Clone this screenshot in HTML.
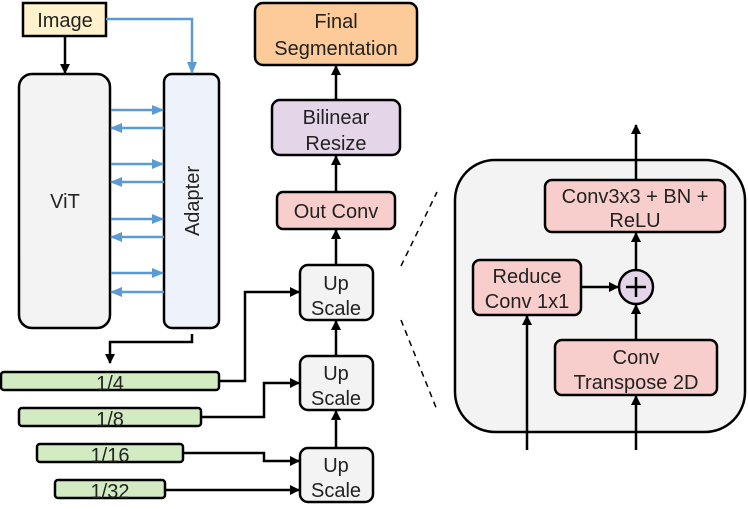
<!DOCTYPE html>
<html><head><style>body{margin:0;background:#fff}svg{display:block}text{font-family:"Liberation Sans",sans-serif;fill:#222;text-anchor:middle}</style></head><body>
<svg width="748" height="509" viewBox="0 0 748 509" xmlns="http://www.w3.org/2000/svg">
<defs>
<marker id="a" markerWidth="10" markerHeight="10" refX="9" refY="5" orient="auto" markerUnits="userSpaceOnUse"><path d="M0,0 L10,5 L0,10 z" fill="#000"/></marker>
<marker id="b" markerWidth="12" markerHeight="10" refX="11" refY="5" orient="auto" markerUnits="userSpaceOnUse"><path d="M0,0 L12,5 L0,10 z" fill="#5b9bd5"/></marker>
</defs>
<g stroke="#000" stroke-width="2.5">
<rect x="23" y="3" width="83" height="33" fill="#fff2cc"/>
<rect x="19" y="74" width="91" height="254" rx="13" fill="#f3f3f3"/>
<rect x="164" y="74" width="55" height="254" rx="8" fill="#eef2fb"/>
<rect x="255" y="3" width="162" height="62" rx="8" fill="#fdcb99"/>
<rect x="272" y="100" width="128" height="55" rx="8" fill="#e4d6e8"/>
<rect x="277" y="192" width="118" height="37" rx="6" fill="#f8cecc"/>
<rect x="300" y="265" width="73" height="55" rx="8" fill="#f3f3f3"/>
<rect x="300" y="356" width="73" height="54" rx="8" fill="#f3f3f3"/>
<rect x="300" y="448" width="73" height="54" rx="8" fill="#f3f3f3"/>
<rect x="1" y="372" width="218" height="18" rx="3" fill="#d3ebc3"/>
<rect x="19" y="408" width="182" height="18" rx="3" fill="#d3ebc3"/>
<rect x="37" y="444" width="146" height="18" rx="3" fill="#d3ebc3"/>
<rect x="55" y="480" width="110" height="18" rx="3" fill="#d3ebc3"/>
<rect x="455" y="160" width="290" height="272" rx="40" fill="#f3f3f3"/>
<rect x="545" y="180" width="180" height="52" rx="7" fill="#f8cecc"/>
<rect x="473" y="260" width="108" height="55" rx="7" fill="#f8cecc"/>
<rect x="555" y="340" width="162" height="55" rx="7" fill="#f8cecc"/>
<circle cx="636" cy="287" r="17" fill="#e4d6e8"/>
</g>
<g stroke="#000" stroke-width="2.5" fill="none">
<path d="M626,287H646M636,277V297" stroke-width="2.5"/>
<path d="M65,36V73" marker-end="url(#a)"/>
<path d="M192,334V342H110V363" marker-end="url(#a)"/>
<path d="M219,381H245V292H299" marker-end="url(#a)"/>
<path d="M201,417H264V383H299" marker-end="url(#a)"/>
<path d="M183,453H264V461H299" marker-end="url(#a)"/>
<path d="M165,490H299" marker-end="url(#a)"/>
<path d="M336,448V411" marker-end="url(#a)"/>
<path d="M336,356V321" marker-end="url(#a)"/>
<path d="M336,265V230" marker-end="url(#a)"/>
<path d="M336,192V156" marker-end="url(#a)"/>
<path d="M336,100V66" marker-end="url(#a)"/>
<path d="M527,450V316" marker-end="url(#a)"/>
<path d="M636,450V396" marker-end="url(#a)"/>
<path d="M636,340V305" marker-end="url(#a)"/>
<path d="M636,270V233" marker-end="url(#a)"/>
<path d="M636,180V125" marker-end="url(#a)"/>
<path d="M581,287H618" marker-end="url(#a)"/>
<path d="M401,266L437,192M401,320L437,410" stroke-width="1.5" stroke-dasharray="6,5"/>
</g>
<g stroke="#5b9bd5" stroke-width="2.5" fill="none" marker-end="url(#b)">
<path d="M106,19H192V73"/>
<path d="M111,110H163"/><path d="M111,164H163"/><path d="M111,219H163"/><path d="M111,273H163"/>
<path d="M164,128H111"/><path d="M164,182H111"/><path d="M164,237H111"/><path d="M164,292H111"/>
</g>
<g font-size="20">
<text x="65" y="27">Image</text>
<text x="65" y="208">ViT</text>
<text transform="translate(199,201) rotate(-90)">Adapter</text>
<text x="336" y="28">Final</text><text x="336" y="55">Segmentation</text>
<text x="336" y="124">Bilinear</text><text x="336" y="150">Resize</text>
<text x="336" y="218">Out Conv</text>
<text x="336" y="290">Up</text><text x="336" y="315">Scale</text>
<text x="336" y="380">Up</text><text x="336" y="405">Scale</text>
<text x="336" y="472">Up</text><text x="336" y="497">Scale</text>
<text x="110" y="390">1/4</text>
<text x="110" y="426">1/8</text>
<text x="110" y="462">1/16</text>
<text x="110" y="498">1/32</text>
<text x="635" y="203">Conv3x3 + BN +</text><text x="635" y="227">ReLU</text>
<text x="527" y="283">Reduce</text><text x="527" y="308">Conv 1x1</text>
<text x="636" y="364">Conv</text><text x="636" y="389">Transpose 2D</text>
</g>
</svg>
</body></html>
